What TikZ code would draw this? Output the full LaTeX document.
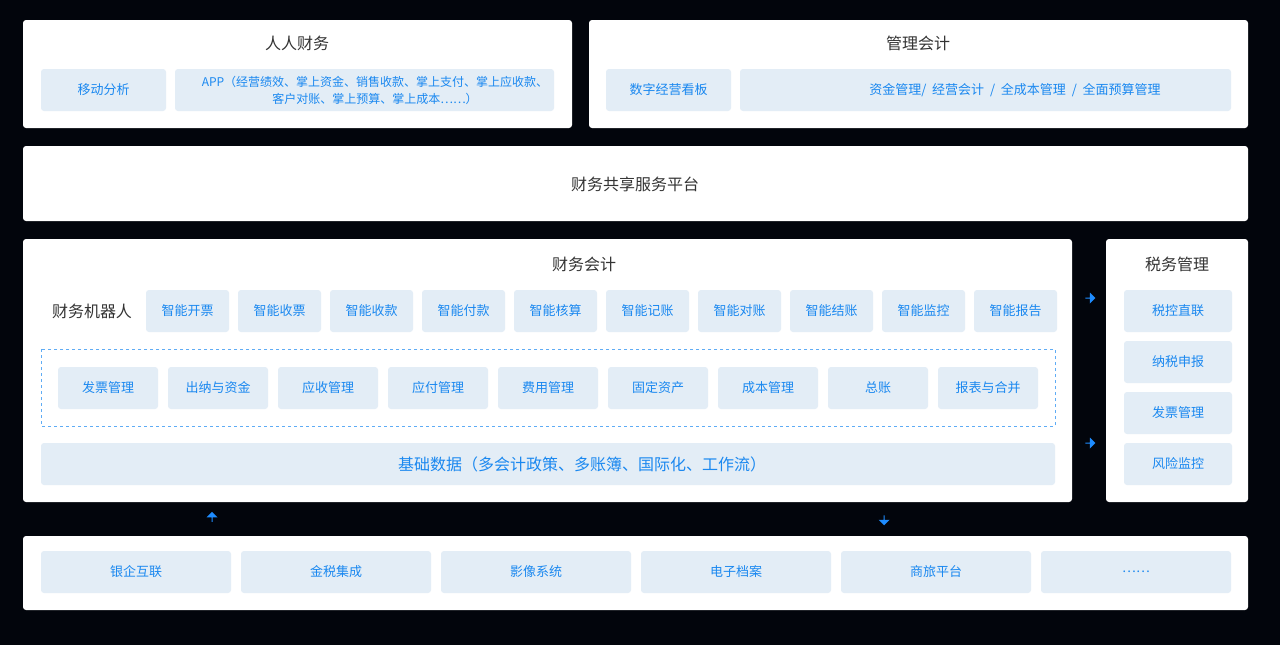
\documentclass[tikz,border=0pt]{standalone}
\usepackage{fontspec}
\setmainfont{Noto Sans CJK SC}
\usetikzlibrary{shapes.arrows}
\definecolor{bg}{HTML}{02050C}
\definecolor{boxc}{HTML}{E3EDF6}
\definecolor{txtb}{HTML}{1A88F0}
\definecolor{ttl}{HTML}{333333}
\definecolor{arr}{HTML}{1E8CFF}
\begin{document}
\begin{tikzpicture}[x=1pt,y=-1pt,
 panel/.style={fill=white,rounded corners=3pt},
 bx/.style={fill=boxc,rounded corners=3pt},
 bt/.style={text=txtb,font=\fontsize{13}{15}\selectfont,align=center},
 tt/.style={text=ttl,font=\fontsize{16}{18}\selectfont},
 sarr/.style={single arrow,fill=arr,minimum height=10pt,minimum width=11pt,single arrow head extend=2pt,inner sep=0pt}]
\fill[bg] (0,0) rectangle (1280,645);
\useasboundingbox (0,0) rectangle (1280,645);
% top left
\fill[panel] (23,20) rectangle (572,128);
\node[tt] (t1) at (297,43) {人人财务};
\fill[bx] (41,69) rectangle (166,111); \node[bt] (m1) at (103.5,90) {移动分析};
\fill[bx] (175,69) rectangle (554,111); \node[bt,font=\fontsize{12}{17}\selectfont] (m2) at (375,90) {APP（经营绩效、掌上资金、销售收款、掌上支付、掌上应收款、\\客户对账、掌上预算、掌上成本……）};
% top right
\fill[panel] (589,20) rectangle (1248,128);
\node[tt] (t2) at (918,43) {管理会计};
\fill[bx] (606,69) rectangle (731,111); \node[bt] (g1) at (668.5,90) {数字经营看板};
\fill[bx] (740,69) rectangle (1231,111); \node[bt] (g2) at (1015,90) {资金管理/\ \ 经营会计\ \ /\ \ 全成本管理\ \ /\ \ 全面预算管理};
% platform
\fill[panel] (23,146) rectangle (1248,221);
\node[tt] (pf) at (635,184) {财务共享服务平台};
% finance accounting
\fill[panel] (23,239) rectangle (1072,502);
\node[tt] (t3) at (584,264) {财务会计};
\node[tt] (rb) at (92,311) {财务机器人};
\foreach \t [count=\i from 0] in {智能开票,智能收票,智能收款,智能付款,智能核算,智能记账,智能对账,智能结账,智能监控,智能报告}{
  \fill[bx] (146+92*\i,290) rectangle (229+92*\i,332);
  \node[bt] (r\i) at (187.5+92*\i,311) {\t};
}
\draw[txtb!70,dashed] (41,349) rectangle (1055,426);
\foreach \t [count=\i from 0] in {发票管理,出纳与资金,应收管理,应付管理,费用管理,固定资产,成本管理,总账,报表与合并}{
  \fill[bx] (58+110*\i,367) rectangle (158+110*\i,409);
  \node[bt] (f\i) at (108+110*\i,388) {\t};
}
\fill[bx] (41,443) rectangle (1055,485);
\node[bt,font=\fontsize{16}{18}\selectfont] (jc) at (582,464) {基础数据（多会计政策、多账簿、国际化、工作流）};
% tax
\fill[panel] (1106,239) rectangle (1248,502);
\node[tt] (t4) at (1177,264) {税务管理};
\foreach \t [count=\i from 0] in {税控直联,纳税申报,发票管理,风险监控}{
  \fill[bx] (1124,290+51*\i) rectangle (1232,332+51*\i);
  \node[bt] (x\i) at (1178,311+51*\i) {\t};
}
% arrows
\node[sarr] (a1) at (1090,298) {};
\node[sarr] (a2) at (1090,443) {};
\node[sarr,rotate=90] (a3) at (212,517) {};
\node[sarr,rotate=-90] (a4) at (884,520) {};
% bottom
\fill[panel] (23,536) rectangle (1248,610);
\foreach \t [count=\i from 0] in {银企互联,金税集成,影像系统,电子档案,商旅平台,……}{
  \fill[bx] (41+200*\i,551) rectangle (231+200*\i,593);
  \node[bt] (b\i) at (136+200*\i,572) {\t};
}
\end{tikzpicture}
\end{document}
